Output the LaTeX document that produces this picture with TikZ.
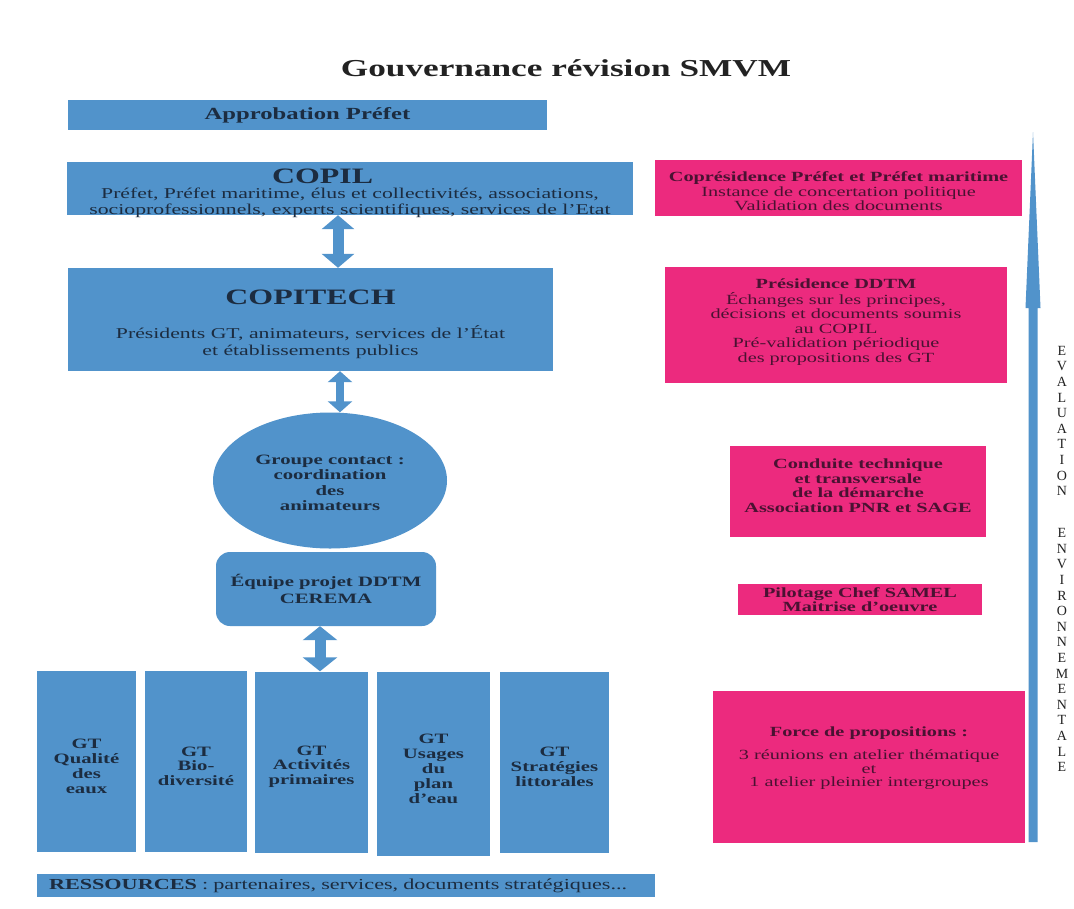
\documentclass[tikz,border=0pt]{standalone}
\usepackage{fontspec}
\setmainfont{Liberation Serif}[FakeStretch=1.45]
\newfontfamily\vfont{Liberation Serif}
\usetikzlibrary{shapes.geometric,arrows.meta,calc}
\definecolor{bbox}{HTML}{5193CB}
\definecolor{pbox}{HTML}{EC2A7E}
\definecolor{btxt}{HTML}{1C2C40}
\definecolor{ptxt}{HTML}{4A1232}
\definecolor{ttxt}{HTML}{222222}
\newcommand{\topstrut}[1]{\rule{0pt}{#1}}
\tikzset{
  bluebox/.style={rectangle, fill=bbox, inner sep=0pt, align=center, text=btxt,
    font=\fontsize{15}{16.5}\selectfont},
  pinkbox/.style={rectangle, fill=pbox, inner sep=0pt, align=center, text=ptxt,
    font=\fontsize{14}{14.6}\selectfont},
  gtbox/.style={bluebox, font=\fontsize{14.3}{14.8}\selectfont\bfseries, minimum height=181pt},
  dblA/.style={draw=bbox, line width=11pt,
    {Triangle[width=32pt,length=14pt]}-{Triangle[width=32pt,length=14pt]}},
  dblB/.style={draw=bbox, line width=8pt,
    {Triangle[width=24pt,length=11pt]}-{Triangle[width=24pt,length=11pt]}},
  dblC/.style={draw=bbox, line width=11pt,
    {Triangle[width=34pt,length=14pt]}-{Triangle[width=34pt,length=14pt]}},
}
\begin{document}
\begin{tikzpicture}[x=1pt,y=-1pt]
\useasboundingbox[fill=white] (0,0) rectangle (1074,908);

% title
\node[text=ttxt, font=\fontsize{24.3}{26}\selectfont\bfseries] (title) at (566,68) {Gouvernance révision SMVM};

% left column
\node[bluebox, minimum width=479pt, minimum height=30pt, font=\fontsize{17}{18}\selectfont\bfseries]
  (appro) at (307.5,115) {Approbation Préfet};

\node[bluebox, minimum width=566pt, minimum height=53pt] (copil) at (350,188.5) {};
\node[inner sep=0pt, align=center, text=btxt, font=\fontsize{15}{16.5}\selectfont] (copiltext) at (copil.center)
  {\topstrut{25pt}{\fontsize{22}{22}\selectfont\bfseries\makebox[156pt][l]{COPIL}}\\[-2pt]
   Préfet, Préfet maritime, élus et collectivités, associations,\\
   socioprofessionnels, experts scientifiques, services de l'Etat};

\node[bluebox, minimum width=485pt, minimum height=103pt] (copitech) at (310.5,319.5)
  {\topstrut{24pt}{\fontsize{22}{22}\selectfont\bfseries COPITECH}\\[18pt]
   Présidents GT, animateurs, services de l'État\\
   et établissements publics};

\node[ellipse, fill=bbox, inner sep=0pt, minimum width=234pt, minimum height=136pt,
  align=center, text=btxt, font=\fontsize{14.3}{15.2}\selectfont\bfseries] (groupe) at (330,480.5)
  {\topstrut{14pt}Groupe contact :\\coordination\\des\\animateurs};

\node[bluebox, rounded corners=14pt, minimum width=220pt, minimum height=74pt,
  font=\fontsize{14.3}{16.5}\selectfont\bfseries] (equipe) at (326,589)
  {Équipe projet DDTM\\CEREMA};

\node[gtbox, minimum width=99pt] (gt1) at (86.5,761.5) {\topstrut{19pt}GT\\Qualité\\des\\eaux};
\node[gtbox, minimum width=102pt] (gt2) at (196,761.5) {\topstrut{19pt}GT\\Bio-\\diversité};
\node[gtbox, minimum width=113pt] (gt3) at (311.5,762) {\topstrut{19pt}GT\\Activités\\primaires};
\node[gtbox, minimum width=113pt, minimum height=184pt] (gt4) at (433.5,764) {\topstrut{19pt}GT\\Usages\\du\\plan\\d'eau};
\node[gtbox, minimum width=109pt] (gt5) at (554.5,762) {\topstrut{19pt}GT\\Stratégies\\littorales};

\node[bluebox, minimum height=23pt, text width=594pt, inner xsep=12pt, align=left,
  font=\fontsize{15.3}{16}\selectfont] (ress) at (346,885.5)
  {\textbf{RESSOURCES} : partenaires, services, documents stratégiques...};

% double arrows
\coordinate (xa) at (338,0);
\coordinate (xb) at (340,0);
\coordinate (xc) at (320,0);
\draw[dblA] (copil.south -| xa) -- (copitech.north -| xa);
\draw[dblB] (copitech.south -| xb) -- (groupe.north -| xb);
\draw[dblC] (equipe.south -| xc) -- (gt3.north -| xc);

% right column
\node[pinkbox, minimum width=367pt, minimum height=56pt] (p1) at (838.5,188)
  {\topstrut{17pt}\textbf{Coprésidence Préfet et Préfet maritime}\\
   Instance de concertation politique\\
   Validation des documents};

\node[pinkbox, minimum width=342pt, minimum height=116pt] (p2) at (836,325)
  {\textbf{Présidence DDTM}\\[1pt]
   Échanges sur les principes,\\
   décisions et documents soumis\\
   au COPIL\\
   Pré-validation périodique\\
   des propositions des GT\\[-6pt]\mbox{}};

\node[pinkbox, minimum width=256pt, minimum height=91pt, font=\fontsize{14}{14.8}\selectfont\bfseries] (p3) at (858,491.5)
  {Conduite technique\\
   et transversale\\
   de la démarche\\
   Association PNR et SAGE\\[-3pt]\mbox{}};

\node[pinkbox, minimum width=244pt, minimum height=31pt, font=\fontsize{14}{14.2}\selectfont\bfseries] (p4) at (860,599.5)
  {Pilotage Chef SAMEL\\
   Maitrise d'oeuvre};

\node[pinkbox, minimum width=312pt, minimum height=152pt] (p5) at (869,767)
  {\textbf{Force de propositions :}\\[9pt]
   3 réunions en atelier thématique\\[-1pt]
   et\\[-1pt]
   1 atelier pleinier intergroupes\\[6pt]\mbox{}};

% evaluation arrow
\coordinate (evb) at (1033,842);
\coordinate (evt) at (1033,132);
\fill[bbox] (evt) -- ($(evt)+(7.5,176)$) -- ($(evt)+(4.5,176)$) -- ($(evb)+(4.5,0)$)
  -- ($(evb)+(-4.5,0)$) -- ($(evt)+(-4.5,176)$) -- ($(evt)+(-7.5,176)$) -- cycle;

\node[anchor=north, inner sep=0pt, align=center, text=ttxt,
  font=\vfont\fontsize{14}{15.6}\selectfont] (evtext) at (1062,346)
  {E\\V\\A\\L\\U\\A\\T\\I\\O\\N\\[26.4pt]E\\N\\V\\I\\R\\O\\N\\N\\E\\M\\E\\N\\T\\A\\L\\E};
\end{tikzpicture}
\end{document}
